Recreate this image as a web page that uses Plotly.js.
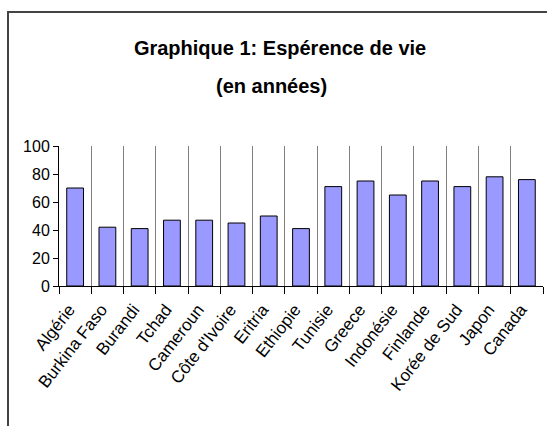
<!DOCTYPE html>
<html>
<head>
<meta charset="utf-8">
<script src="https://cdn.plot.ly/plotly-3.0.1.min.js"></script>
<style>
html,body{margin:0;padding:0;background:#fff;}
#wrap{position:relative;width:547px;height:426px;overflow:hidden;}
#chart{position:absolute;left:0;top:0;width:547px;height:426px;}
#frame{position:absolute;left:7px;top:11px;width:600px;height:500px;border-left:2px solid #444;border-top:2px solid #444;pointer-events:none;}
</style>
</head>
<body>
<div id="wrap"><div id="chart"></div><div id="frame"></div></div>
<script>
const countries = ["Algérie","Burkina Faso","Burandi","Tchad","Cameroun","Côte d'Ivoire","Eritria","Ethiopie","Tunisie","Greece","Indonésie","Finlande","Korée de Sud","Japon","Canada"];
const lifeExpectancy = [70,42,41,47,47,45,50,41,71,75,65,75,71,78,76];
const yTicks = [0,20,40,60,80,100];
const titleLine1 = 'Graphique 1: Espérence de vie';
const titleLine2 = '(en années)';

const font = "'Liberation Sans', Arial, sans-serif";

Plotly.newPlot('chart', [{
  type: 'bar',
  x: countries,
  y: lifeExpectancy,
  marker: {color: '#9999FF', line: {color: '#000000', width: 1}},
  hoverinfo: 'x+y'
}], {
  width: 547, height: 426,
  margin: {l: 59, r: 4, t: 146, b: 140, pad: 0},
  paper_bgcolor: 'rgba(0,0,0,0)',
  plot_bgcolor: '#ffffff',
  bargap: 0.48,
  showlegend: false,
  title: {
    text: '<b>' + titleLine1 + '</b>',
    font: {family: font, size: 20, color: '#000'},
    xref: 'container', yref: 'container',
    x: 0.512, xanchor: 'center', y: 0.887, yanchor: 'middle'
  },
  annotations: [{
    text: '<b>' + titleLine2 + '</b>',
    font: {family: font, size: 20, color: '#000'},
    xref: 'paper', yref: 'paper',
    x: 0.44, y: 1.43, xanchor: 'center', yanchor: 'middle',
    showarrow: false
  }],
  xaxis: {
    type: 'category',
    range: [-0.5, 14.5],
    tickson: 'boundaries',
    ticks: 'outside', ticklen: 7, tickcolor: '#000', tickwidth: 1,
    showgrid: true, gridcolor: '#808080', gridwidth: 1,
    showline: true, linecolor: '#000', linewidth: 1,
    tickangle: -52,
    ticklabelshift: -6,
    ticklabelstandoff: 6,
    tickfont: {family: font, size: 17, color: '#000'},
    fixedrange: true
  },
  yaxis: {
    range: [0, 100],
    tickvals: yTicks,
    ticks: 'outside', ticklen: 5, tickcolor: '#000',
    showgrid: false, zeroline: false,
    showline: true, linecolor: '#000', linewidth: 1,
    tickfont: {family: font, size: 16, color: '#000'},
    fixedrange: true
  }
}, {displayModeBar: false, staticPlot: true});
</script>
</body>
</html>
